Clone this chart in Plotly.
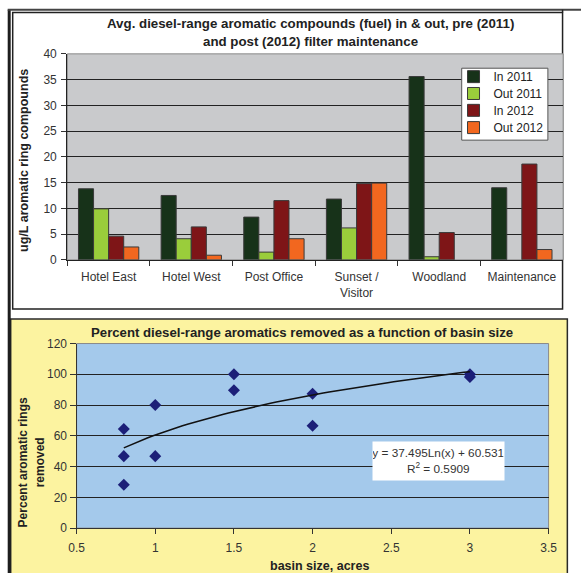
import numpy as np
import plotly.graph_objects as go

# ---------------- data: top bar chart ----------------
sites = ["Hotel East", "Hotel West", "Post Office", "Sunset /<br>Visitor", "Woodland", "Maintenance"]
in_2011 = [13.8, 12.5, 8.3, 11.8, 35.6, 14.0]
out_2011 = [9.9, 4.1, 1.5, 6.2, 0.6, None]
in_2012 = [4.6, 6.4, 11.5, 14.8, 5.3, 18.6]
out_2012 = [2.5, 0.9, 4.1, 14.9, None, 2.0]
series_names = ["In 2011", "Out 2011", "In 2012", "Out 2012"]
series_colors = ["#173219", "#9acd3b", "#7e1517", "#f2671f"]

# ---------------- data: bottom scatter ----------------
basin_acres = [0.8, 0.8, 0.8, 1.0, 1.0, 1.5, 1.5, 2.0, 2.0, 3.0, 3.0]
pct_removed = [64.4, 46.8, 28.2, 80.0, 46.8, 100.0, 89.6, 87.4, 66.5, 100.0, 98.2]
TREND_A = 37.495   # printed log-trendline coefficients
TREND_B = 60.531
R2 = 0.5909

# figure size and screen mapping (screen = S * (page + OFF))
W, H = 597, 589
S, OFF = 0.973, 7.5
FONT = "Liberation Sans, Arial, sans-serif"


def PX(x):
    return (x / S - OFF) / W


def PY(y):
    return 1 - (y / S - OFF) / H


def F(sz):
    return sz / S


fig = go.Figure()

legend_ids = ["legend", "legend2", "legend3", "legend4"]
for name, vals, col, lg in zip(series_names, [in_2011, out_2011, in_2012, out_2012], series_colors, legend_ids):
    fig.add_trace(go.Bar(
        x=sites, y=vals, name=name, xaxis="x", yaxis="y", legend=lg,
        marker=dict(color=col, line=dict(color="#3a3a3a", width=1)),
    ))

fig.add_trace(go.Scatter(
    x=basin_acres, y=pct_removed, mode="markers", xaxis="x2", yaxis="y2",
    marker=dict(symbol="diamond", size=F(9), color="#1c1f78"), showlegend=False,
))

tx = np.linspace(min(basin_acres), max(basin_acres), 60)
fig.add_trace(go.Scatter(
    x=tx, y=TREND_A * np.log(tx) + TREND_B, mode="lines", xaxis="x2", yaxis="y2",
    line=dict(color="#111111", width=1.5), showlegend=False, hoverinfo="skip",
))

shapes = [
    dict(type="rect", xref="paper", yref="paper", x0=PX(10), x1=PX(567.5), y0=PY(590), y1=PY(318.3),
         fillcolor="#fcf3a0", line=dict(color="#2a2a2a", width=1.5), layer="below"),
    dict(type="rect", xref="paper", yref="paper", x0=PX(12), x1=PX(562.7), y0=PY(308.3), y1=PY(12.7),
         fillcolor="white", line=dict(color="#222222", width=1.5), layer="below"),
    dict(type="line", xref="paper", yref="paper", x0=PX(8.5), x1=PX(8.5), y0=PY(590), y1=PY(10),
         line=dict(color="#1e1e1e", width=3)),
    dict(type="line", xref="paper", yref="paper", x0=PX(7), x1=PX(600), y0=PY(10), y1=PY(10),
         line=dict(color="#444444", width=2)),
    dict(type="line", xref="paper", yref="paper", x0=PX(562.7), x1=PX(562.7), y0=PY(12.7), y1=PY(10),
         line=dict(color="#222222", width=1.5)),
    # legend box
    dict(type="rect", xref="paper", yref="paper", x0=PX(461.7), x1=PX(548), y0=PY(140), y1=PY(68.3),
         fillcolor="white", line=dict(color="#555555", width=1), layer="above"),
]


def note(text, x, y, size=12, angle=0, **kw):
    d = dict(text=text, x=PX(x), y=PY(y), xref="paper", yref="paper", showarrow=False,
             xanchor="center", yanchor="middle", textangle=angle,
             font=dict(family=FONT, size=size, color=kw.pop("color", "#222222")))
    d.update(kw)
    return d


annotations = [
    note("<b>Avg. diesel-range aromatic compounds (fuel) in & out, pre (2011)</b>", 310, 24, size=13.3),
    note("<b>and post (2012) filter maintenance</b>", 310, 41.7, size=13.3),
    note("<b>ug/L aromatic ring compounds</b>", 24, 160, size=12.5, angle=-90),
    note("<b>Percent diesel-range aromatics removed as a function of basin size</b>", 301.5, 331.7, size=13.2),
    note("<b>Percent aromatic rings</b>", 22, 461.5, angle=-90),
    note("<b>removed</b>", 39, 461.5, angle=-90),
    note("<b>basin size, acres</b>", 319.5, 564.5, size=12.5),
    note("y = %.3fLn(x) + %.3f<br>R<sup>2</sup> = %.4f" % (TREND_A, TREND_B, R2), 438.5, 459.3,
         size=11.8, color="#333333", bgcolor="white", width=F(127), height=F(36.7), borderpad=0),
]

legend_rows = [76.7, 93.5, 110.3, 127.5]
legend_cfg = {}
for lg, yrow in zip(legend_ids, legend_rows):
    legend_cfg[lg] = dict(x=PX(453.5), y=PY(yrow), xanchor="left", yanchor="middle",
                          bgcolor="rgba(0,0,0,0)", borderwidth=0,
                          font=dict(family=FONT, size=12, color="#222222"),
                          itemwidth=30)

fig.update_layout(
    width=W, height=H, autosize=False,
    margin=dict(l=0, r=0, t=0, b=0),
    paper_bgcolor="white",
    plot_bgcolor="rgba(0,0,0,0)",
    barmode="group", bargap=0.27, bargroupgap=0,
    font=dict(family=FONT, size=12, color="#333333"),
    showlegend=True,
    shapes=shapes,
    annotations=annotations,
    xaxis=dict(domain=[PX(66.7), PX(563.3)], anchor="y", type="category",
               showline=True, linecolor="#222222", linewidth=1,
               ticks="outside", tickson="boundaries", ticklen=F(5), tickcolor="#333333",
               ticklabelstandoff=6,
               showgrid=False, tickfont=dict(size=12, color="#333333"), fixedrange=True),
    yaxis=dict(domain=[PY(259.3), PY(54)], anchor="x", range=[0, 40], dtick=5,
               showline=True, linecolor="#222222", linewidth=1,
               ticks="outside", ticklen=F(5), tickcolor="#333333", ticklabelstandoff=2,
               showgrid=True, gridcolor="#222222", gridwidth=1, zeroline=False,
               tickfont=dict(size=12, color="#333333"), fixedrange=True),
    xaxis2=dict(domain=[PX(76), PX(548.7)], anchor="y2", range=[0.5, 3.5], dtick=0.5,
                showline=True, linecolor="#333333", linewidth=1,
                ticks="outside", ticklen=F(5), tickcolor="#333333", ticklabelstandoff=3,
                showgrid=False, zeroline=False,
                tickfont=dict(size=12, color="#333333"), fixedrange=True),
    yaxis2=dict(domain=[PY(526.7), PY(342.7)], anchor="x2", range=[0, 120], dtick=20,
                showline=True, linecolor="#333333", linewidth=1,
                ticks="outside", ticklen=F(5), tickcolor="#333333", ticklabelstandoff=1,
                showgrid=True, gridcolor="#222222", gridwidth=1, zeroline=False,
                tickfont=dict(size=12, color="#333333"), fixedrange=True),
    **legend_cfg,
)

fig.add_shape(type="rect", xref="x domain", yref="y domain", x0=0, x1=1, y0=0, y1=1,
              fillcolor="#c9cacc", line=dict(color="#8a8a8a", width=1), layer="below")
fig.add_shape(type="rect", xref="x2 domain", yref="y2 domain", x0=0, x1=1, y0=0, y1=1,
              fillcolor="#a4c9eb", line=dict(color="#8a8a8a", width=1), layer="below")

fig.write_html(
    "out.html",
    config={"displayModeBar": False},
    post_script="document.body.style.margin='0';document.body.style.overflow='hidden';",
)
